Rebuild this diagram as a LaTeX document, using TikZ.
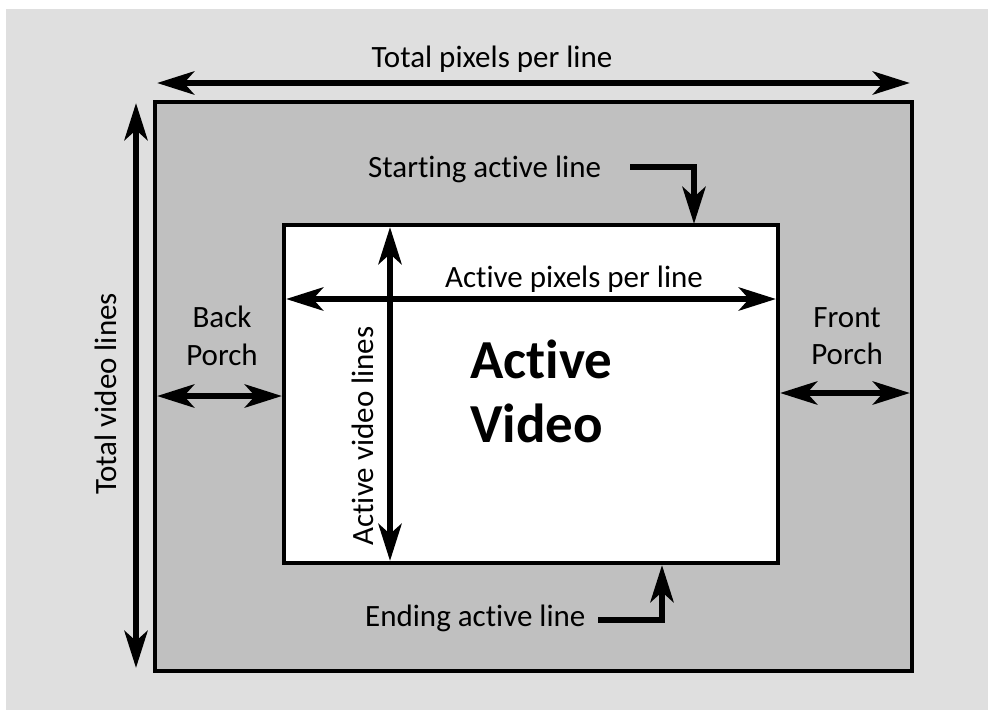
\documentclass[tikz,border=0pt]{standalone}
\usepackage{fontspec}
\setmainfont{Carlito}[Ligatures={NoCommon,NoRequired,NoContextual}]
\usetikzlibrary{arrows.meta}
\definecolor{bggray}{HTML}{DFDFDF}
\definecolor{boxgray}{HTML}{C0C0C0}
\tikzset{
  frame/.style={draw=black, line width=3.5pt},
  bigarrow/.style={draw=black, line width=6.5pt,
    {Stealth[length=37pt,width=23pt,inset=10pt]}-{Stealth[length=37pt,width=23pt,inset=10pt]}},
  onearrow/.style={draw=black, line width=6.5pt,
    -{Stealth[length=37pt,width=23pt,inset=10pt]}},
  lbl/.style={font=\fontsize{31}{38}\selectfont, inner sep=0pt, anchor=base},
  biglbl/.style={font=\fontsize{55}{66}\bfseries\selectfont, inner sep=0pt, anchor=base west}
}
\begin{document}
\begin{tikzpicture}[x=1pt,y=-1pt]
\useasboundingbox (0,0) rectangle (988,710);
\fill[bggray] (6,9) rectangle (988,710);
% outer and inner frames
\node[frame, fill=boxgray, minimum width=757pt, minimum height=569pt, inner sep=0pt, outer sep=0pt, anchor=north west] (outer) at (155,102) {};
\node[frame, fill=white, minimum width=494pt, minimum height=338pt, inner sep=0pt, outer sep=0pt, anchor=north west] (inner) at (284,225) {};
% coordinates for arrow ends
\coordinate (tl) at (157,83);
\coordinate (tr) at (910,83);
\coordinate (vt) at (136,103);
\coordinate (vb) at (136,668);
\coordinate (apl) at (286,299);
\coordinate (apr) at (776,299);
\coordinate (avt) at (390,227);
\coordinate (avb) at (390,561);
\coordinate (bpl) at (157,396);
\coordinate (bpr) at (282,396);
\coordinate (fpl) at (780,393);
\coordinate (fpr) at (910,393);
\coordinate (sa0) at (630,167);
\coordinate (sa1) at (694,224);
\coordinate (ea0) at (598,620);
\coordinate (ea1) at (662,565);
% arrows
\draw[bigarrow] (tl) -- (tr);
\draw[bigarrow] (vt) -- (vb);
\draw[bigarrow] (apl) -- (apr);
\draw[bigarrow] (avt) -- (avb);
\draw[bigarrow] (bpl) -- (bpr);
\draw[bigarrow] (fpl) -- (fpr);
\draw[onearrow] (sa0) -| (sa1);
\draw[onearrow] (ea0) -| (ea1);
% labels
\node[lbl] (ttl) at (492,67) {Total pixels per line};
\node[lbl, anchor=base west] (sal) at (368,177) {Starting active line};
\node[lbl, anchor=base west] (eal) at (365,626) {Ending active line};
\node[lbl] (apll) at (574,287) {Active pixels per line};
\node[lbl] (bk) at (222,327) {Back};
\node[lbl] (bp) at (222,365) {Porch};
\node[lbl] (fr) at (847,327) {Front};
\node[lbl] (fp) at (847,364) {Porch};
\node[lbl, rotate=90] (tvl) at (116,394) {Total video lines};
\node[lbl, rotate=90] (avl) at (373,436) {Active video lines};
\node[biglbl] (av1) at (470,378) {Active};
\node[biglbl] (av2) at (470,442) {Video};
\end{tikzpicture}
\end{document}
